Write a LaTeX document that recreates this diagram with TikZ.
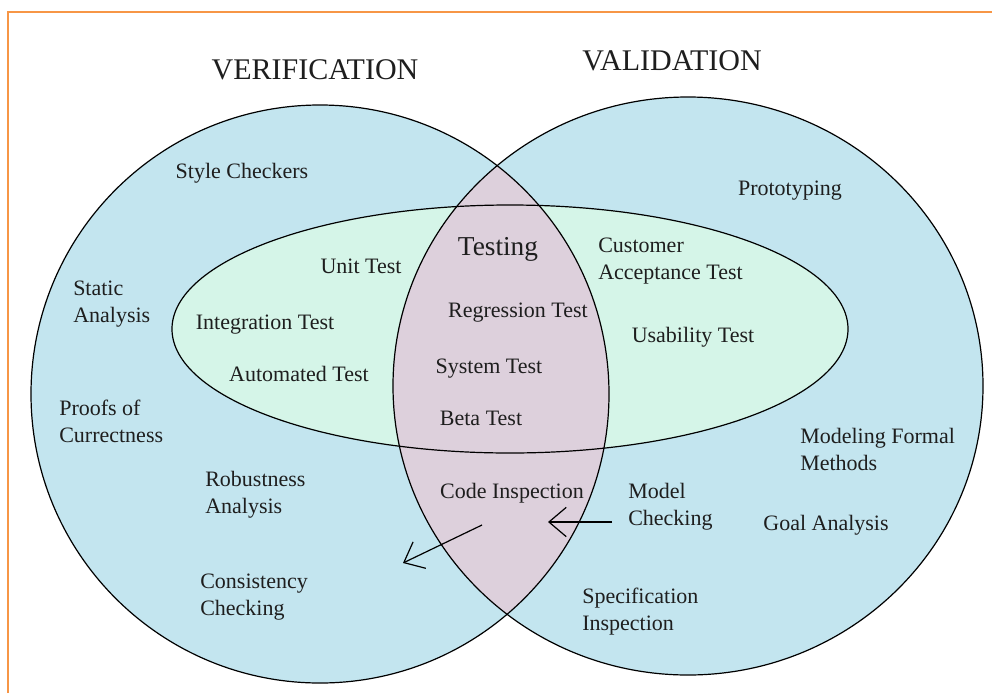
\documentclass[tikz,border=0pt]{standalone}
\usepackage{fontspec}
\setmainfont{Liberation Serif}
\usetikzlibrary{arrows.meta, positioning}
\definecolor{verifblue}{RGB}{195,229,239}
\definecolor{testgreen}{RGB}{213,245,232}
\definecolor{lensmauve}{RGB}{221,208,220}
\definecolor{frameorange}{RGB}{247,150,70}
\definecolor{inkgray}{RGB}{30,30,30}
\tikzset{
    item/.style={font=\fontsize{16.5}{20.25}\selectfont, text=inkgray, inner sep=0pt, anchor=base},
    itemleft/.style={item, align=left, anchor=base west},
    title/.style={font=\fontsize{22.5}{26}\selectfont, text=inkgray, inner sep=0pt, anchor=base},
    outline/.style={draw=black, line width=0.9pt},
    arrow/.style={-{Straight Barb[length=13pt, width=22pt]}, line width=0.9pt},
}

\begin{document}
\begin{tikzpicture}[x=0.75pt, y=-0.75pt]
    \useasboundingbox (0,0) rectangle (992,693);
    % frame
    \draw[frameorange, line width=1.5pt] (8,693) -- (8,12) -- (992,12);

    % circles and the testing ellipse
    \fill[verifblue] (320,394) ellipse [x radius=289, y radius=289];
    \fill[verifblue] (688,386) ellipse [x radius=295, y radius=289];
    \fill[testgreen] (510,329) ellipse [x radius=338, y radius=124];
    \begin{scope}
        \clip (320,394) ellipse [x radius=289, y radius=289];
        \fill[lensmauve] (688,386) ellipse [x radius=295, y radius=289];
    \end{scope}
    \draw[outline] (320,394) ellipse [x radius=289, y radius=289];
    \draw[outline] (688,386) ellipse [x radius=295, y radius=289];
    \draw[outline] (510,329) ellipse [x radius=338, y radius=124];

    % titles
    \node[title] (verification) at (315,79) {VERIFICATION};
    \node[title] (validation) at (672,70) {VALIDATION};

    % labels (two-line labels sit on their last baseline)
    \node[item] (stylecheck) at (242,178) {Style Checkers};
    \node[item] (proto) at (790,195) {Prototyping};
    \node[item, font=\fontsize{20.5}{24}\selectfont] (testing) at (498,255) {Testing};
    \node[itemleft] (customer) at (598,279) {Customer\\Acceptance Test};
    \node[item] (unit) at (361,273) {Unit Test};
    \node[itemleft] (static) at (73,322) {Static\\Analysis};
    \node[item] (integration) at (265,329) {Integration Test};
    \node[item] (regression) at (518,317) {Regression Test};
    \node[item] (usability) at (693,342) {Usability Test};
    \node[item] (automated) at (299,381) {Automated Test};
    \node[item] (system) at (489,373) {System Test};
    \node[itemleft] (proofs) at (59,442) {Proofs of\\Currectness};
    \node[item] (beta) at (481,425) {Beta Test};
    \node[itemleft] (modeling) at (800,470) {Modeling Formal\\Methods};
    \node[itemleft] (robust) at (205,513) {Robustness\\Analysis};
    \node[item] (code) at (512,498) {Code Inspection};
    \node[itemleft] (modelcheck) at (628,525) {Model\\Checking};
    \node[item] (goal) at (826,530) {Goal Analysis};
    \node[itemleft] (consistency) at (200,615) {Consistency\\Checking};
    \node[itemleft] (spec) at (582,630) {Specification\\Inspection};

    % arrows
    \coordinate (mctail) at (612,522);
    \coordinate (mctip) at (548,522);
    \coordinate (citail) at (482,525);
    \coordinate (citip) at (403,563);
    \draw[arrow] (mctail) -- (mctip);
    \draw[arrow] (citail) -- (citip);
\end{tikzpicture}
\end{document}
